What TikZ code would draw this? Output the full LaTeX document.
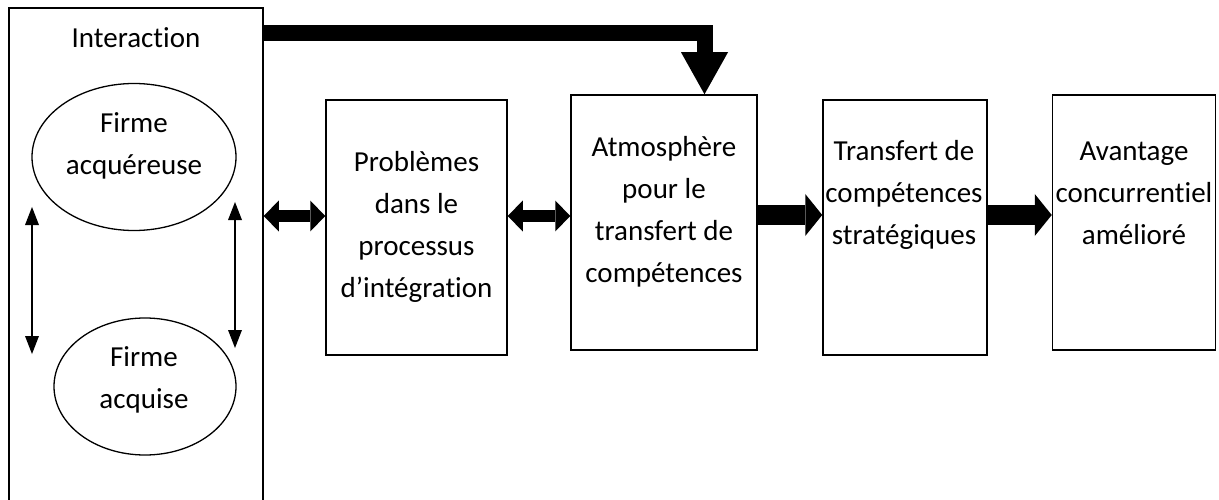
\documentclass[tikz,border=0pt]{standalone}
\usepackage{fontspec}
\setmainfont[Ligatures=NoCommon]{Carlito}
\usetikzlibrary{arrows.meta,shapes.geometric}

\begin{document}
\begin{tikzpicture}[x=1pt,y=-1pt,
  txt/.style={align=center,inner sep=0pt,font=\fontsize{29}{42}\selectfont},
  box/.style={draw,line width=1.5pt,inner sep=0pt},
  oval/.style={draw,ellipse,line width=1.3pt,inner sep=0pt},
  thinlink/.style={line width=1.5pt,
    {Triangle[length=18pt,width=14pt,line width=0pt]}-{Triangle[length=18pt,width=14pt,line width=0pt]}},
  duallink/.style={line width=12pt,
    {Triangle[length=15pt,width=31pt,line width=0pt]}-{Triangle[length=15pt,width=31pt,line width=0pt]}},
  flowlink/.style={line width=20pt,-{Triangle[length=17pt,width=42pt,line width=0pt]}},
  toplink/.style={line width=16pt,line join=miter,-{Triangle[length=42pt,width=47pt,line width=0pt]}}
]
\useasboundingbox (0,0) rectangle (1219,500);

% left panel
\node[box,minimum width=254pt,minimum height=507pt] (I) at (136,261.5) {};
\node[txt] (Ilab) at (136,38) {Interaction};
\node[oval,minimum width=204pt,minimum height=147pt] (E1) at (134,157) {};
\node[txt] (E1lab) at (134,146) {Firme\\acquéreuse};
\node[oval,minimum width=182pt,minimum height=137pt] (E2) at (145,386.5) {};
\node[txt] (E2lab) at (144,380) {Firme\\acquise};

\coordinate (la) at (32,207);
\coordinate (lb) at (32,354);
\coordinate (ra) at (235,202);
\coordinate (rb) at (235,348);
\draw[thinlink] (la) -- (lb);
\draw[thinlink] (ra) -- (rb);

% process boxes
\node[box,minimum width=181pt,minimum height=255pt] (P) at (416.5,227.5) {};
\node[txt] (Plab) at (416.5,227) {Problèmes\\dans le\\processus\\d’intégration};
\node[box,minimum width=186pt,minimum height=255pt] (A) at (664,222.5) {};
\node[txt] (Alab) at (664,212) {Atmosphère\\pour le\\transfert de\\compétences};
\node[box,minimum width=164pt,minimum height=255pt] (T) at (905,227.5) {};
\node[txt] (Tlab) at (904,195) {Transfert de\\compétences\\stratégiques};
\node[box,minimum width=163pt,minimum height=255pt] (V) at (1134,222.5) {};
\node[txt] (Vlab) at (1134,193) {Avantage\\concurrentiel\\amélioré};

% connectors
\coordinate (yd) at (0,216);
\coordinate (yf) at (0,215);
\coordinate (yt) at (0,33);
\draw[duallink] (I.east |- yd) -- (P.west |- yd);
\draw[duallink] (P.east |- yd) -- (A.west |- yd);
\draw[flowlink] (A.east |- yf) -- (T.west |- yf);
\draw[flowlink] (T.east |- yf) -- (V.west |- yf);
\coordinate (bend) at (704.5,33);
\draw[toplink] (I.east |- yt) -- (bend) -- (bend |- A.north);
\end{tikzpicture}
\end{document}
